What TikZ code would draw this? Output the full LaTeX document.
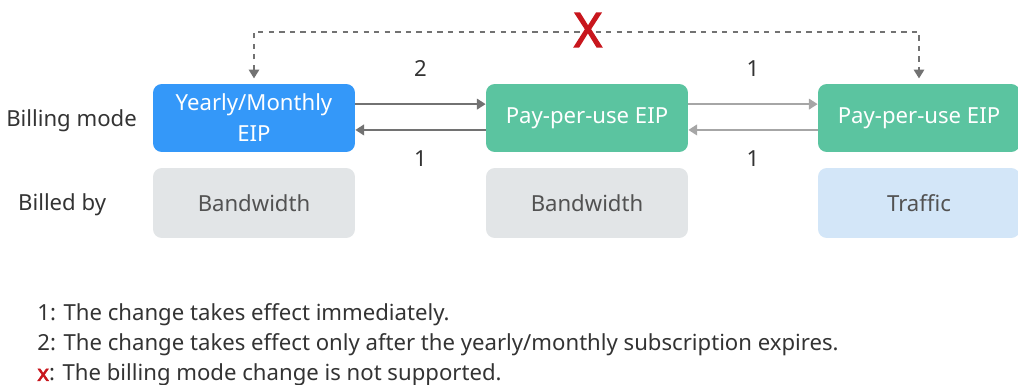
\documentclass[tikz,border=0pt]{standalone}
\usepackage{fontspec}
\setmainfont{Noto Sans}[AutoFakeBold=2.5]
\usetikzlibrary{arrows.meta,positioning}
\definecolor{ink}{HTML}{333333}
\definecolor{yearblue}{HTML}{3498F9}
\definecolor{payteal}{HTML}{5BC4A0}
\definecolor{boxgrey}{HTML}{E2E5E7}
\definecolor{boxblue}{HTML}{D3E6F8}
\definecolor{linkdark}{HTML}{727272}
\definecolor{linklight}{HTML}{A6A6A6}
\definecolor{crossred}{HTML}{C8161D}
\tikzset{>={Triangle[length=5pt,width=6pt]},
  every node/.style={font=\fontsize{12.6pt}{17.6pt}\selectfont,text=ink},
  modebox/.style={rounded corners=5pt,minimum width=4.04cm,minimum height=1.36cm,
    align=center,text=white,inner sep=1pt},
  billbox/.style={rounded corners=5pt,minimum width=4.04cm,minimum height=1.4cm,
    text=ink!85},
  link/.style={->,line width=1.3pt},
  nolink/.style={<->,draw=linkdark,dashed,line width=.8pt,shorten <=3pt,shorten >=3pt},
  legend/.style={anchor=west,inner sep=0pt}}
\begin{document}
\begin{tikzpicture}[x=0.02cm,y=-0.02cm]
\useasboundingbox (0,0) rectangle (1018,385);
% billing modes
\node[modebox,fill=yearblue] (year) at (254,118) {Yearly/Monthly\\EIP};
\node[modebox,fill=payteal] (payA) at (587,118) {Pay-per-use EIP};
\node[modebox,fill=payteal] (payB) at (919,118) {Pay-per-use EIP};
\node[billbox,fill=boxgrey] (bwA) at (254,203) {Bandwidth};
\node[billbox,fill=boxgrey] (bwB) at (587,203) {Bandwidth};
\node[billbox,fill=boxblue] (traffic) at (919,203) {Traffic};
\node[anchor=east] (modelabel) at (143,121) {Billing mode};
\node[anchor=west] (bylabel) at (12,205) {Billed by};
% changes between modes
\draw[link,linkdark] ([yshift=7.9pt]year.east) -- ([yshift=7.9pt]payA.west) node[midway,above=12pt] (twoA) {2};
\draw[link,linkdark] ([yshift=-6.8pt]payA.west) -- ([yshift=-6.8pt]year.east) node[midway,below=8pt] (oneA) {1};
\draw[link,linklight] ([yshift=7.9pt]payA.east) -- ([yshift=7.9pt]payB.west) node[midway,above=12pt] (oneB) {1};
\draw[link,linklight] ([yshift=-6.8pt]payB.west) -- ([yshift=-6.8pt]payA.east) node[midway,below=8pt] (oneC) {1};
\coordinate (topmid) at (588,32);
\draw[nolink] (year.north) |- (topmid) -| (payB.north);
\node[text=crossred,inner sep=0pt,font=\fontsize{27pt}{27pt}\selectfont\bfseries] (cross) at (588,30) {X};
% legend
\node[legend] (legone) at (37,315) {1: The change takes effect immediately.};
\node[legend] (legtwo) at (37,345) {2: The change takes effect only after the yearly/monthly subscription expires.};
\node[legend] (legx) at (37,375) {\textcolor{crossred}{\bfseries x}: The billing mode change is not supported.};
\end{tikzpicture}
\end{document}
